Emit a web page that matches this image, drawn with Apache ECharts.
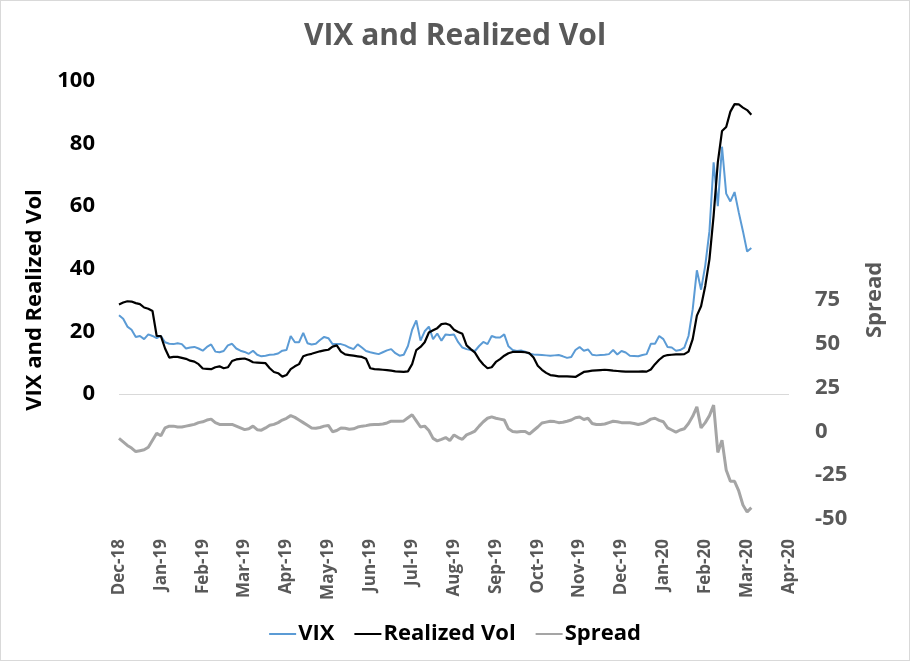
<!DOCTYPE html>
<html>
<head>
<meta charset="utf-8">
<script src="https://cdn.jsdelivr.net/npm/echarts@6/dist/echarts.min.js"></script>
<style>
  html, body { margin: 0; padding: 0; background: #fff; }
  #chart { width: 908px; height: 659px; border: 1px solid #d9d9d9; }
</style>
</head>
<body>
<div id="chart"></div>
<script>
// axis labels, one per month tick
var months = ['Dec-18', 'Jan-19', 'Feb-19', 'Mar-19', 'Apr-19', 'May-19', 'Jun-19', 'Jul-19',
    'Aug-19', 'Sep-19', 'Oct-19', 'Nov-19', 'Dec-19', 'Jan-20', 'Feb-20', 'Mar-20', 'Apr-20'];

// one reading every 0.1 month along the axis
var step = 0.1;

var vix = [
    25.1, 24, 21.5, 20.5, 18.2, 18.5, 17.5, 19, 18.5, 17.8,
    18.5, 16.5, 16, 15.9, 16.2, 15.9, 14.5, 14.8, 15, 14.5,
    13.8, 15, 15.8, 13.5, 13.3, 13.7, 15.5, 16, 14.5, 13.8,
    13.4, 12.8, 13.8, 12.5, 12, 12.2, 12.5, 12.6, 12.9, 13.8,
    14, 18.5, 16.5, 16.5, 19.5, 16.2, 15.8, 16, 17.2, 18.2,
    17.8, 15.9, 15.9, 15.9, 15.5, 14.8, 14.3, 15.8, 14.8, 13.7,
    13.3, 13, 12.7, 13.3, 13.9, 14.3, 13, 12.2, 12.5, 15.3,
    20.5, 23.5, 17, 20, 21.5, 17.5, 19.3, 17, 19, 18.8,
    19, 16.5, 14.8, 14.3, 14, 13.7, 15.3, 16.6, 15.9, 18.5,
    18, 18, 19, 15.2, 14, 13.7, 13.9, 13.5, 12.8, 12.6,
    12.5, 12.4, 12.3, 12.2, 12.3, 12.4, 12, 11.5, 11.8, 14,
    15, 13.8, 14.2, 12.5, 12.3, 12.4, 12.5, 12.7, 14, 12.6,
    13.7, 13.2, 12.2, 12.1, 12, 12.4, 12.7, 16, 16, 18.5,
    17.5, 15, 14.8, 13.8, 14, 14.8, 18.5, 27, 39.5, 33.3,
    41, 52, 74, 60, 79, 64, 61.5, 64.5, 58, 52, 45.5, 46.6
];

var realizedVol = [
    28.6, 29.2, 29.6, 29.5, 29, 28.7, 27.6, 27.2, 26.5, 18.5,
    18.5, 14.5, 11.6, 11.8, 11.8, 11.5, 11.2, 10.6, 10.3, 9.5,
    8.1, 8, 7.9, 8.5, 8.8, 8.2, 8.5, 10.5, 11, 11.2,
    11.3, 10.8, 10.1, 10, 9.9, 9.8, 8.2, 7, 6.6, 5.5,
    6, 7.9, 8.8, 9.5, 12, 12.5, 12.8, 13.2, 13.6, 13.9,
    14.1, 15.1, 15.5, 13.5, 12.6, 12.4, 12.2, 12, 11.8, 11.2,
    8.2, 7.9, 7.8, 7.7, 7.6, 7.4, 7.2, 7.1, 7, 7.2,
    9.5, 14, 15, 16.5, 19.6, 20.3, 21, 22.3, 22.5, 22,
    20.5, 19.8, 19.2, 15.5, 14.3, 13.2, 11, 9.4, 8.2, 8.5,
    10.2, 11.1, 12.2, 13, 13.4, 13.4, 13.4, 13.3, 13, 11.6,
    9, 7.7, 6.7, 6, 5.8, 5.6, 5.6, 5.6, 5.5, 5.4,
    6.2, 7, 7.2, 7.4, 7.5, 7.6, 7.7, 7.6, 7.4, 7.3,
    7.2, 7.1, 7.1, 7.1, 7.1, 7.2, 7.1, 7.8, 9.5, 10.9,
    12, 12.4, 12.5, 12.6, 12.6, 12.7, 13.5, 17.5, 25, 28,
    34.5, 43, 57, 74, 84, 85.3, 90.2, 92.6, 92.5, 91.5, 90.7, 89.2
];

var spread = [
    -4, -6, -8, -9.5, -11.5, -11, -10.5, -9, -5, -1,
    -2.5, 2, 3, 3, 2.5, 2.5, 3, 3.5, 4, 5,
    5.5, 6.5, 7, 5, 4, 4, 4, 4, 3, 2,
    1, 1.5, 3, 1, 0.7, 2, 3.5, 4, 5, 6.5,
    7.5, 9, 8, 6.5, 5, 3.5, 2, 1.8, 2.2, 3,
    3.4, -0.2, 0.5, 2, 1.8, 1.2, 1.5, 2.5, 3, 3.3,
    3.8, 4, 4, 4.2, 4.8, 5.8, 5.8, 5.8, 6, 7.8,
    9.5, 6, 2.5, 3, 0.5, -4, -5.4, -4.5, -3.5, -5.2,
    -2, -3.5, -4.5, -2, -1, 0.2, 3, 5.5, 7.5, 8.3,
    7.5, 7, 6.5, 1.5, 0, -0.4, 0, 0, -1.5, 0.5,
    2.5, 4.8, 5.3, 5.8, 5.6, 5, 5.2, 5.8, 6.5, 7.8,
    8.2, 6.8, 7.5, 4.5, 3.9, 3.9, 4.2, 5, 5.8, 5.5,
    5, 4.9, 4.9, 4.5, 3.9, 4.5, 5.5, 7, 7.5, 6.3,
    5.5, 2, 0.8, -0.4, 0.8, 1.5, 4.5, 8.6, 14, 2,
    5, 9, 15, -12, -5, -22, -28.5, -28.5, -34, -42, -46, -43.5
];

function pairs(values) {
    return values.map(function (v, i) {
        return [+(i * step).toFixed(2), v];
    });
}

var font = '"Open Sans", sans-serif';
var chart = echarts.init(document.getElementById('chart'), null, { renderer: 'canvas' });

var option = {
    backgroundColor: '#ffffff',
    animation: false,
    title: {
        text: 'VIX and Realized Vol',
        left: 'center',
        top: 15,
        textStyle: {
            fontFamily: font,
            fontSize: 30,
            fontWeight: 'bold',
            color: '#595959'
        }
    },
    legend: {
        top: 617,
        left: 'center',
        icon: 'rect',
        itemWidth: 27,
        itemHeight: 2,
        itemGap: 20,
        textStyle: {
            fontFamily: font,
            fontSize: 22,
            fontWeight: 'bold',
            color: '#000000',
            padding: [0, 0, 0, -3]
        },
        data: ['VIX', 'Realized Vol', 'Spread']
    },
    grid: {
        left: 118,
        right: 120,
        top: 80,
        bottom: 141
    },
    xAxis: {
        type: 'value',
        min: 0,
        max: 16,
        interval: 1,
        splitLine: { show: false },
        axisLine: { show: false },
        axisTick: { show: false },
        axisLabel: {
            rotate: 90,
            margin: 20,
            fontFamily: font,
            fontSize: 17,
            fontWeight: 'bold',
            color: '#595959',
            formatter: function (v) {
                return months[Math.round(v)] || '';
            }
        }
    },
    yAxis: [
        {
            type: 'value',
            position: 'left',
            min: -40,
            max: 100,
            interval: 20,
            splitLine: { show: false },
            axisLine: { show: false },
            axisTick: { show: false },
            axisLabel: {
                margin: 24,
                fontFamily: font,
                fontSize: 22,
                fontWeight: 'bold',
                color: '#000000',
                formatter: function (v) {
                    return v < 0 ? '' : v;
                }
            },
            name: 'VIX and Realized Vol',
            nameLocation: 'middle',
            nameRotate: 90,
            nameGap: 73,
            nameTextStyle: {
                fontFamily: font,
                fontSize: 22,
                fontWeight: 'bold',
                color: '#000000'
            }
        },
        {
            type: 'value',
            position: 'right',
            min: -50,
            max: 200,
            interval: 25,
            splitLine: { show: false },
            axisLine: { show: false },
            axisTick: { show: false },
            axisLabel: {
                margin: 26,
                fontFamily: font,
                fontSize: 22,
                fontWeight: 'bold',
                color: '#595959',
                formatter: function (v) {
                    return v > 75 ? '' : v;
                }
            },
            name: 'Spread',
            nameLocation: 'middle',
            nameRotate: 90,
            nameGap: 75,
            nameTextStyle: {
                fontFamily: font,
                fontSize: 22,
                fontWeight: 'bold',
                color: '#595959'
            }
        }
    ],
    series: [
        {
            name: 'VIX',
            type: 'line',
            yAxisIndex: 0,
            showSymbol: false,
            symbol: 'none',
            color: '#5b9bd5',
            lineStyle: { width: 2, color: '#5b9bd5' },
            data: pairs(vix),
            z: 3,
            markLine: {
                silent: true,
                symbol: 'none',
                label: { show: false },
                lineStyle: { color: '#d9d9d9', width: 1, type: 'solid' },
                data: [{ yAxis: 0 }]
            }
        },
        {
            name: 'Realized Vol',
            type: 'line',
            yAxisIndex: 0,
            showSymbol: false,
            symbol: 'none',
            color: '#000000',
            lineStyle: { width: 2.2, color: '#000000' },
            data: pairs(realizedVol),
            z: 4
        },
        {
            name: 'Spread',
            type: 'line',
            yAxisIndex: 1,
            showSymbol: false,
            symbol: 'none',
            color: '#a5a5a5',
            lineStyle: { width: 3, color: '#a5a5a5' },
            data: pairs(spread),
            z: 2
        }
    ]
};

chart.setOption(option);
</script>
</body>
</html>
